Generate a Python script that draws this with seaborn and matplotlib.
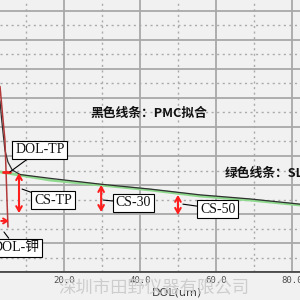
import numpy as np
import pandas as pd
import matplotlib
matplotlib.use("Agg")
import matplotlib.pyplot as plt
import seaborn as sns

# ---- data (DOL in um, stress in arbitrary units) ----
slp_x = [3.2, 8.5, 16.35, 29.5, 42.6, 55.8, 68.9, 82.1]
slp_y = [3.45, 3.34, 3.17, 3.00, 2.83, 2.62, 2.48, 2.31]

pmc_x = [3.2, 3.6, 4.0, 4.5, 5.3, 6.4, 8.5, 16.35, 29.5, 42.6, 55.8, 68.9, 82.1]
pmc_y = [5.90, 5.30, 4.80, 4.20, 3.79, 3.52, 3.36, 3.23, 3.03, 2.86, 2.66, 2.52, 2.34]

k_x = [3.2, 4.0, 4.5, 4.78, 5.04, 5.3]
k_y = [6.40, 5.24, 4.55, 3.52, 2.48, 1.55]

x_ticks = [0, 20, 40, 60, 80]
x_tick_labels = ["0.0", "20.0", "40.0", "60.0", "80.0"]

cs_labels = ["CS-TP", "CS-30", "CS-50"]
cs_x = [8.2, 29.8, 50.0]
cs_top = [3.41, 3.00, 2.66]
cs_bottom = [2.03, 2.07, 1.97]
cs_text_x = [17.1, 38.3, 60.5]
cs_text_y = [2.48, 2.38, 2.17]
cs_point_x = [9.0, 30.4, 51.3]
cs_point_y = [2.86, 2.48, 2.34]

dol_tp = dict(label="DOL-TP", x=5.8, y=3.45, tx=13.7, ty=4.21, mark_x0=4.0, mark_x1=5.8)
dol_k = dict(label="DOL-钾", x=4.25, y=1.38, tx=7.4, ty=0.83, ax0=3.5, ax1=5.6, ay=1.76)

# ---- figure ----
sns.set_style("white")
plt.rcParams["font.family"] = ["DejaVu Sans", "Noto Sans CJK SC"]
bg = "#f1f1f1"
fig = plt.figure(figsize=(3, 3), dpi=100, facecolor=bg)
ax = fig.add_axes([0, 28 / 300, 1, 272 / 300])
ax.set_facecolor(bg)

# lines
sns.lineplot(x=slp_x, y=slp_y, ax=ax, color="#8fda8f", lw=2.0, sort=False, estimator=None)
sns.lineplot(x=pmc_x, y=pmc_y, ax=ax, color="#303030", lw=0.9, sort=False, estimator=None)
sns.lineplot(x=k_x, y=k_y, ax=ax, color="#b23a3a", lw=1.1, sort=False, estimator=None)

red = "#ff1e1e"
box = dict(boxstyle="square,pad=0.2", fc="white", ec="black", lw=0.8)
serif = ["Liberation Serif", "Noto Sans CJK SC"]

# CS arrows and callouts
for lab, x, t, b, tx, ty, px, py in zip(cs_labels, cs_x, cs_top, cs_bottom,
                                         cs_text_x, cs_text_y, cs_point_x, cs_point_y):
    ax.annotate("", xy=(x, t), xytext=(x, b),
                arrowprops=dict(arrowstyle="<->,head_length=0.35,head_width=0.2",
                                color=red, lw=1.5, shrinkA=0, shrinkB=0))
    ax.annotate(lab, xy=(px, py), xytext=(tx, ty), ha="center", va="center",
                fontsize=10, family=serif, color="#111111", bbox=box,
                arrowprops=dict(arrowstyle="-", color="black", lw=0.8, shrinkA=0, shrinkB=0))

# DOL-TP
ax.plot([dol_tp["mark_x0"], dol_tp["mark_x1"]], [dol_tp["y"], dol_tp["y"]], color=red, lw=2)
ax.annotate(dol_tp["label"], xy=(dol_tp["x"], dol_tp["y"]), xytext=(dol_tp["tx"], dol_tp["ty"]),
            ha="center", va="center", fontsize=10, family=serif, color="#111111", bbox=box,
            arrowprops=dict(arrowstyle="-", color="black", lw=0.8, shrinkA=0, shrinkB=0))

# DOL-钾
ax.annotate("", xy=(dol_k["ax1"], dol_k["ay"]), xytext=(dol_k["ax0"], dol_k["ay"]),
            arrowprops=dict(arrowstyle="->,head_length=0.3,head_width=0.18", color=red, lw=1.4,
                            shrinkA=0, shrinkB=0))
ax.annotate(dol_k["label"], xy=(dol_k["x"], dol_k["y"]), xytext=(dol_k["tx"], dol_k["ty"]),
            ha="center", va="center", fontsize=10, family=serif, color="#111111", bbox=box,
            arrowprops=dict(arrowstyle="-", color="black", lw=0.8, shrinkA=0, shrinkB=0))

# legend-like texts
ax.text(26.9, 5.48, "黑色线条：PMC拟合", fontsize=9.2, fontweight="bold",
        family=["Noto Sans CJK SC", "DejaVu Sans"], ha="left", va="center", color="#111111")
ax.text(62.4, 3.41, "绿色线条：SLP", fontsize=9.2, fontweight="bold",
        family=["Noto Sans CJK SC", "DejaVu Sans"], ha="left", va="center", color="#111111")

# ticks, grid
ax.set_xticks(x_ticks)
ax.set_xticklabels(x_tick_labels, fontsize=6.5, color="#505050", family="DejaVu Sans Mono")
ax.set_xticks([10, 30, 50, 70], minor=True)
ax.set_yticks(np.arange(0, 10, 1.0))
ax.set_yticks(np.arange(0.5, 10, 1.0), minor=True)
ax.set_yticklabels([])
ax.tick_params(which="both", length=0, pad=3)
ax.set_axisbelow(True)
ax.grid(which="major", color="#a8a8a8", lw=1.3, ls="-")
ax.grid(which="minor", color="#aaaaaa", lw=1.0, ls=(0, (1.5, 2.5)))
for s in ["left", "top", "right"]:
    ax.spines[s].set_visible(False)
ax.spines["bottom"].set_color("#3a3a3a")
ax.spines["bottom"].set_linewidth(1.2)

# limits last (set_ticks may expand the view)
ax.set_xlim(3.2, 82.1)
ax.set_ylim(0, 272 / 29)

# x label
ax.set_xlabel("DOL(um)", fontsize=8, color="#404040")
ax.xaxis.set_label_coords(0.59, -0.077)
ax.xaxis.label.set_va("center")

# watermark
fig.text(0.513, 0.04, "深圳市田野仪器有限公司", fontsize=12.5, color="#c9c9c9",
         family=["Noto Sans CJK SC"], ha="center", va="center", alpha=0.9)

fig.savefig("out.png", dpi=100, facecolor=bg)
